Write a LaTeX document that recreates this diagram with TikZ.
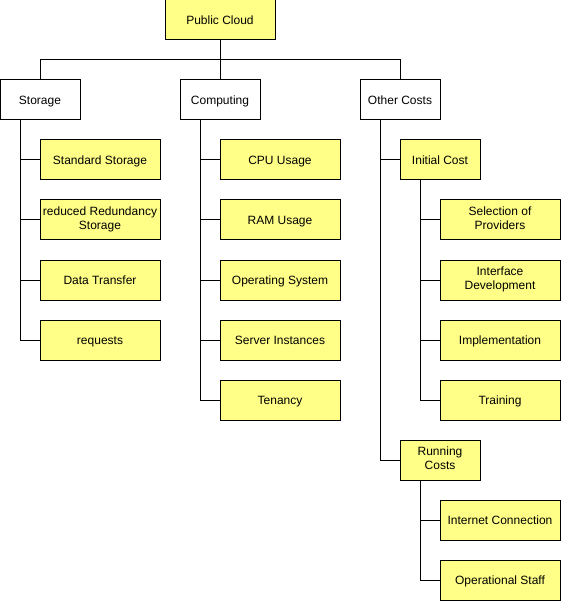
\documentclass[tikz,border=0pt]{standalone}
\usepackage{fontspec}
\setmainfont{Liberation Sans}
\usepackage{xcolor}
\usepackage{tikz}
\definecolor{noteyellow}{HTML}{FFFF88}

\begin{document}
\begin{tikzpicture}[x=1pt, y=-1pt,
      box/.style={rectangle, draw, line width=1pt, minimum width=80pt, minimum height=40pt, inner sep=1pt, outer sep=0pt, align=center, font=\fontsize{12}{14}\selectfont,
        execute at begin node={\rule{0pt}{12.6pt}}, execute at end node={\rule[-3pt]{0pt}{3pt}}},
      leaf/.style={box, fill=noteyellow, minimum width=120pt},
      link/.style={line width=1pt}
    ]
      \useasboundingbox (0,0) rectangle (561,601);

      \node[box, fill=noteyellow, minimum width=110pt] (cloud) at (220,20) {Public Cloud};
      \coordinate (bus) at (220,60);

      \node[box] (storage)   at (40,100)  {Storage};
      \node[box] (computing) at (220,100) {Computing};
      \node[box] (other)     at (400,100) {Other Costs};

      \node[leaf] (standard)  at (100,160) {Standard Storage};
      \node[leaf] (reduced)   at (100,220) {reduced Redundancy\\Storage};
      \node[leaf] (transfer)  at (100,280) {Data Transfer};
      \node[leaf] (requests)  at (100,340) {requests};

      \node[leaf] (cpu)       at (280,160) {CPU Usage};
      \node[leaf] (ram)       at (280,220) {RAM Usage};
      \node[leaf] (os)        at (280,280) {Operating System};
      \node[leaf] (instances) at (280,340) {Server Instances};
      \node[leaf] (tenancy)   at (280,400) {Tenancy};

      \node[box, fill=noteyellow] (initial) at (440,160) {Initial Cost};
      \node[box, fill=noteyellow] (running) at (440,460) {Running\\Costs};

      \node[leaf] (selection) at (500,220) {Selection of\\Providers};
      \node[leaf] (interface) at (500,280) {Interface\\Development};
      \node[leaf] (implement) at (500,340) {Implementation};
      \node[leaf] (training)  at (500,400) {Training};

      \node[leaf] (internet)  at (500,520) {Internet Connection};
      \node[leaf] (staff)     at (500,580) {Operational Staff};

      % tree connectors
      \draw[link] (cloud) -- (bus);
      \foreach \child in {storage, computing, other}
        \draw[link] (bus) -| (\child);
      \foreach \child in {standard, reduced, transfer, requests}
        \draw[link] ([xshift=20pt]storage.south west) |- (\child);
      \foreach \child in {cpu, ram, os, instances, tenancy}
        \draw[link] ([xshift=20pt]computing.south west) |- (\child);
      \foreach \child in {initial, running}
        \draw[link] ([xshift=20pt]other.south west) |- (\child);
      \foreach \child in {selection, interface, implement, training}
        \draw[link] ([xshift=20pt]initial.south west) |- (\child);
      \foreach \child in {internet, staff}
        \draw[link] ([xshift=20pt]running.south west) |- (\child);
    \end{tikzpicture}
\end{document}
